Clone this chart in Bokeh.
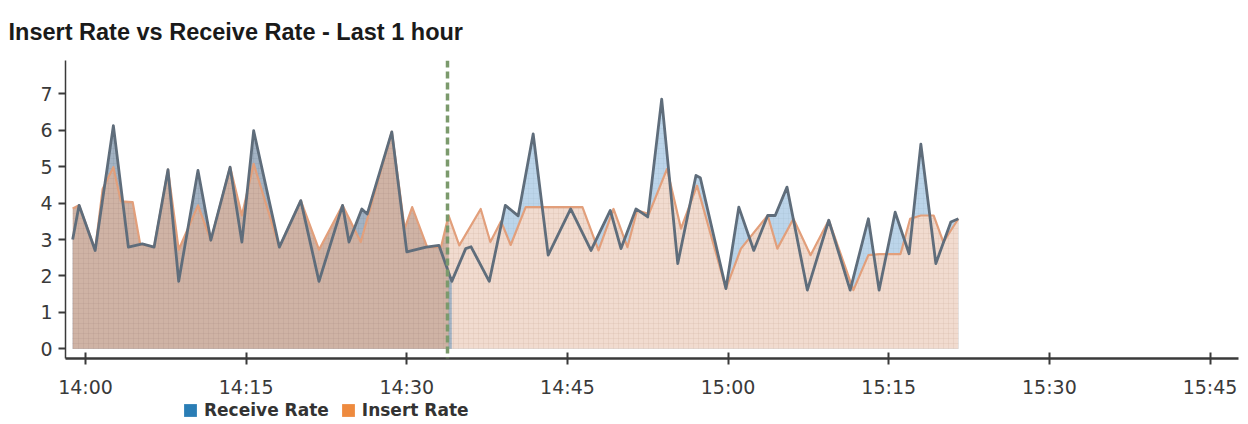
from bokeh.plotting import figure
from bokeh.layouts import column
from bokeh.models import Span, FixedTicker, Legend, LegendItem, Range1d
from bokeh.embed import file_html
from bokeh.resources import INLINE

# ---------------- data (minutes after 14:00) ----------------
title_text = "Insert Rate vs Receive Rate - Last 1 hour"
tick_minutes = [0, 15, 30, 45, 60, 75, 90, 105]
tick_labels = ["14:00", "14:15", "14:30", "14:45", "15:00", "15:15", "15:30", "15:45"]
y_ticks = [0, 1, 2, 3, 4, 5, 6, 7]
marker_minute = 33.8
series_names = ["Receive Rate", "Insert Rate"]

receive_t = [-1.2, -0.6, 0.9, 2.6, 4.0, 5.3, 6.4, 7.7, 8.7, 10.5, 11.7, 13.5, 14.6, 15.7,
             18.1, 20.1, 21.8, 24.0, 24.6, 25.8, 26.3, 28.6, 30.0, 31.8, 33.0, 34.2, 35.5,
             36.0, 37.7, 39.2, 40.4, 41.8, 43.2, 45.3, 47.2, 49.0, 50.0, 51.4, 52.5, 53.8,
             55.3, 57.0, 57.4, 59.8, 61.0, 62.4, 63.7, 64.4, 65.5, 67.4, 69.4, 71.4, 73.1,
             74.1, 75.6, 76.9, 78.0, 79.4, 80.8, 81.5]
receive_v = [3.0, 3.94, 2.70, 6.13, 2.79, 2.88, 2.79, 4.92, 1.85, 4.90, 2.98, 4.99, 2.93, 5.99,
             2.79, 4.07, 1.85, 3.94, 2.93, 3.84, 3.70, 5.96, 2.66, 2.79, 2.84, 1.85, 2.75,
             2.80, 1.85, 3.94, 3.65, 5.90, 2.57, 3.84, 2.70, 3.80, 2.75, 3.84, 3.62, 6.86,
             2.34, 4.76, 4.70, 1.65, 3.89, 2.70, 3.66, 3.66, 4.44, 1.61, 3.53, 1.61, 3.57,
             1.61, 3.75, 2.61, 5.62, 2.34, 3.48, 3.57]

insert_t = [-1.2, -0.6, 0.9, 1.6, 2.6, 3.3, 4.4, 5.1, 6.4, 7.7, 8.7, 10.5, 11.7, 13.5, 14.6,
            15.7, 18.1, 20.1, 21.8, 24.0, 25.7, 28.6, 29.8, 30.5, 31.9, 33.2, 33.9, 34.9,
            36.9, 37.8, 38.8, 39.7, 41.1, 46.4, 47.9, 49.3, 50.6, 51.5, 52.6, 54.3, 55.6,
            57.1, 59.8, 61.2, 63.7, 64.6, 66.1, 67.7, 69.4, 71.7, 73.1, 74.1, 76.1, 77.0,
            78.0, 79.2, 80.1, 81.5]
insert_v = [3.85, 3.94, 2.72, 4.39, 4.99, 4.05, 4.03, 2.88, 2.79, 4.92, 2.72, 3.94, 2.98, 4.99,
            3.66, 5.08, 2.79, 4.07, 2.72, 3.94, 2.93, 5.96, 3.30, 3.89, 2.79, 2.80, 3.66,
            2.84, 3.84, 2.93, 3.50, 2.85, 3.89, 3.89, 2.70, 3.84, 2.79, 3.80, 3.70, 4.94,
            3.30, 4.48, 1.65, 2.75, 3.66, 2.75, 3.57, 2.57, 3.53, 1.61, 2.57, 2.60, 2.60,
            3.57, 3.66, 3.66, 2.93, 3.57]


def split(ts, vs, cut):
    k = next(i for i, t in enumerate(ts) if t >= cut)
    return (ts[:k + 1], vs[:k + 1]), (ts[k - 1:], vs[k - 1:])


(r_left, r_right) = split(receive_t, receive_v, marker_minute)
(i_left, i_right) = split(insert_t, insert_v, marker_minute)

p = figure(width=1248, height=400, x_range=(-1.87, 107.66), y_range=(-0.27, 7.92),
           output_backend="svg", toolbar_location=None,
           min_border_left=65, min_border_right=10, min_border_top=58, min_border_bottom=39)

hatch = dict(hatch_pattern="+", hatch_scale=5, hatch_weight=0.6, hatch_alpha=0.35)

# light (after marker) fills
p.varea(x=r_right[0], y1=0, y2=r_right[1], fill_color="#bcd5ea", hatch_color="#9fb6cc", **hatch)
p.varea(x=i_right[0], y1=0, y2=i_right[1], fill_color="#f1dbcf", hatch_color="#c9ab9c", **hatch)
# darker (before marker) fills
p.varea(x=r_left[0], y1=0, y2=r_left[1], fill_color="#a3b3c4", hatch_color="#7d8d9c", **hatch)
p.varea(x=i_left[0], y1=0, y2=i_left[1], fill_color="#cfb3a5", hatch_color="#a88d80", **hatch)

p.line(insert_t, insert_v, line_color="#e29f7b", line_width=2.2, line_join="round")
p.line(receive_t, receive_v, line_color="#5f6d7b", line_width=2.8, line_join="round")

p.add_layout(Span(location=marker_minute, dimension="height", line_color="#7b9a6c",
                  line_width=3.5, line_dash="7 4"))

# axes
p.xaxis.ticker = FixedTicker(ticks=tick_minutes)
p.xaxis.major_label_overrides = {t: l for t, l in zip(tick_minutes, tick_labels)}
p.yaxis.ticker = FixedTicker(ticks=y_ticks)
for ax in (p.xaxis[0], p.yaxis[0]):
    ax.axis_line_color = "#3a3a3a"
    ax.major_tick_line_color = "#3a3a3a"
    ax.major_tick_line_width = 2
    ax.minor_tick_line_color = None
    ax.major_label_text_font = "DejaVu Sans"
    ax.major_label_text_font_size = "19px"
    ax.major_label_text_color = "#3a3a3a"
p.xaxis.axis_line_width = 2.5
p.xaxis.major_tick_in = 6
p.xaxis.major_tick_out = 6
p.xaxis.major_label_standoff = 11
p.yaxis.axis_line_width = 1.5
p.yaxis.major_tick_in = 0
p.yaxis.major_tick_out = 7
p.yaxis.major_label_standoff = 6

p.xgrid.visible = False
p.ygrid.visible = False
p.outline_line_color = None

p.title.text = title_text
p.title.text_font = "Liberation Sans"
p.title.text_font_style = "bold"
p.title.text_font_size = "23.5px"
p.title.text_color = "#1a1a1a"
p.title.align = "left"
p.title.offset = -57
p.title.standoff = 32

# ---------------- legend strip ----------------
lf = figure(width=1248, height=24, output_backend="svg", toolbar_location=None,
            x_range=Range1d(0, 1), y_range=Range1d(0, 1),
            x_axis_type=None, y_axis_type=None, min_border=0,
            min_border_left=0, min_border_right=0, min_border_top=0, min_border_bottom=0)
lf.outline_line_color = None
lf.xgrid.visible = False
lf.ygrid.visible = False
# swatch renderers kept outside the visible range; they only feed the legend glyphs
lr = lf.quad(left=[5], right=[6], top=[6], bottom=[5], fill_color="#2a7db5", line_color=None)
li = lf.quad(left=[5], right=[6], top=[6], bottom=[5], fill_color="#ee8a3e", line_color=None)
legend = Legend(items=[LegendItem(label=series_names[0], renderers=[lr]),
                       LegendItem(label=series_names[1], renderers=[li])],
                location=(117, 4), orientation="horizontal",
                background_fill_alpha=0, border_line_alpha=0, padding=0, margin=0,
                glyph_width=16, glyph_height=16, label_standoff=6, spacing=11,
                label_text_font="DejaVu Sans", label_text_font_style="bold",
                label_text_font_size="17px", label_text_color="#333333", label_height=13)
lf.add_layout(legend)

open("out.html", "w").write(file_html(column(p, lf, spacing=0), INLINE))
